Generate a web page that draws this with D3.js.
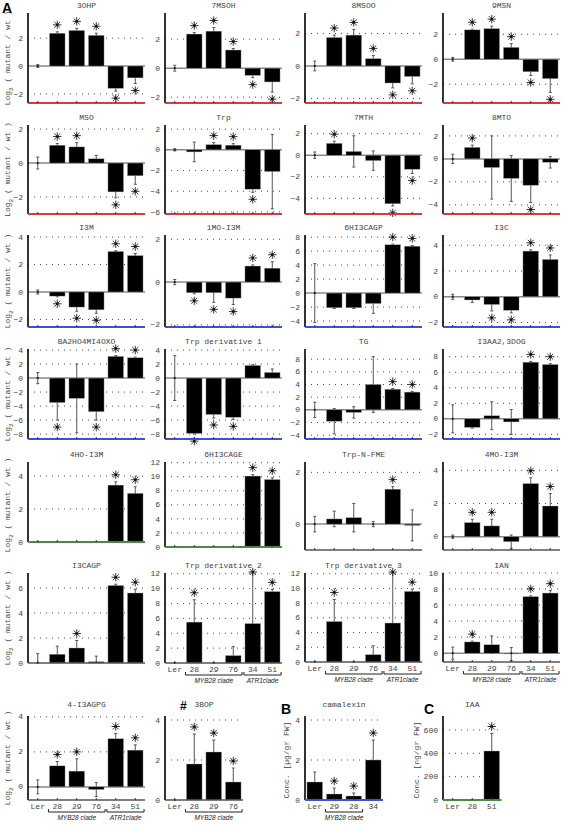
<!DOCTYPE html>
<html><head><meta charset="utf-8">
<script src="https://cdn.jsdelivr.net/npm/d3@7"></script>
<style>body{margin:0;background:#fff}svg{display:block}</style>
</head><body>
<svg id="c" width="562" height="829"></svg>
<script>
// ---------------- DATA ----------------
const genotypes = ["Ler","28","29","76","34","51"];
const genotypes3BOP = ["Ler","28","29","76"];
const genotypesCamalexin = ["Ler","29","28","34"];
const genotypesIAA = ["Ler","28","51"];

const titles = ["3OHP","7MSOH","8MSOO","9MSN","MSO","Trp","7MTH","8MTO",
  "I3M","1MO-I3M","6HI3CAGP","I3C","BA2HO4MI4OXO","Trp derivative 1","TG","I3AA2,3DOG",
  "4HO-I3M","6HI3CAGE","Trp-N-FME","4MO-I3M","I3CAGP","Trp derivative 2","Trp derivative 3","IAN",
  "4-I3AGPG","3BOP","camalexin","IAA"];

const values = [
  [0,2.35,2.55,2.2,-1.6,-0.85],
  [0,2.35,2.55,1.25,-0.5,-0.95],
  [0,1.75,1.9,0.45,-1.05,-0.65],
  [0,2.35,2.45,0.95,-1.0,-1.55],
  [0,1.05,0.95,0.25,-1.7,-0.75],
  [0,-0.2,0.5,0.45,-3.8,-2.1],
  [0,1.1,0.35,-0.5,-4.5,-1.3],
  [0,1.0,-0.75,-1.7,-2.3,-0.3],
  [0,-0.3,-1.1,-1.3,2.95,2.65],
  [0,-0.5,-0.5,-0.75,0.75,0.65],
  [0,-2.1,-2.1,-1.5,6.9,6.7],
  [0,-0.25,-0.6,-1.05,3.55,2.9],
  [0,-3.5,-2.9,-4.8,3.1,2.9],
  [0,-7.9,-5.2,-5.6,1.8,0.8],
  [0,-1.8,-0.4,4.0,3.25,2.8],
  [0,-1.1,0.4,-0.4,7.3,7.0],
  [0,0,0,0,3.45,2.95],
  [0,0,0,0,10.1,9.6],
  [0,0.2,0.25,0,1.35,-0.05],
  [0,0.85,0.65,-0.3,3.2,1.85],
  [0,0.7,1.2,0.1,6.2,5.6],
  [0,5.5,0,1.0,5.3,9.6],
  [0,5.5,0,1.0,5.3,9.6],
  [0,1.4,1.05,-0.1,7.05,7.5],
  [0,1.2,0.9,-0.15,2.75,2.1],
  [0,1.8,2.4,0.9],
  [0.9,0.3,0.2,2.0],
  [5,5,420]
];
const errors = [
  [0.1,0.1,0.15,0.15,0.2,0.4],
  [0.2,0.1,0.25,0.1,0.15,0.7],
  [0.3,0.15,0.35,0.2,0.3,0.45],
  [0.15,0.05,0.2,0.3,0.3,1.1],
  [0.35,0.1,0.25,0.2,0.35,0.5],
  [0.1,0.95,0.2,0.15,0.3,3.6],
  [0.3,0.2,1.45,0.9,0.2,0.4],
  [0.4,0.2,2.75,2.0,1.5,0.5],
  [0.15,0.05,0.3,0.25,0.05,0.15],
  [0.12,0.05,0.45,0.3,0.05,0.3],
  [4.2,0.1,0.1,1.4,0.1,0.1],
  [0.2,0.2,0.5,0.2,0.1,0.35],
  [0.8,2.5,4.9,1.2,0.1,0.1],
  [3.2,0.1,0.5,0.3,0.1,0.5],
  [1.2,2.0,0.9,4.4,0.1,0.1],
  [1.8,0.1,1.8,1.6,0.1,0.1],
  [0,0,0,0,0.2,0.4],
  [0,0,0,0,0.2,0.25],
  [0.3,0.3,0.55,0.1,0.1,0.6],
  [0.1,0.2,0.4,0.4,0.35,0.75],
  [0.75,0.65,0.6,0.45,0.1,0.3],
  [0,3.0,0,1.2,7,0.3],
  [0,3.0,0,1.2,7,0.3],
  [0.75,0.1,1.1,0.8,0.1,0.3],
  [0.4,0.25,0.7,0.4,0.3,0.3],
  [0,1.5,0.6,0.7],
  [0.5,0.3,0.15,1.0],
  [0,0,150]
];
const stars = [
  [0,1,1,1,1,1],[0,1,1,1,1,1],[0,1,1,1,1,1],[0,1,1,1,1,1],
  [0,1,1,0,1,1],[0,0,1,1,1,0],[0,1,0,0,1,1],[0,1,0,0,1,0],
  [0,1,1,1,1,1],[0,1,1,1,1,1],[0,0,0,0,1,1],[0,0,1,1,1,1],
  [0,1,0,1,1,1],[0,1,1,1,0,0],[0,0,0,0,1,1],[0,0,0,0,1,1],
  [0,0,0,0,1,1],[0,0,0,0,1,1],[0,0,0,0,1,0],[0,1,1,0,1,1],
  [0,0,1,0,1,1],[0,1,0,0,1,1],[0,1,0,0,1,1],[0,1,0,0,1,1],
  [0,1,1,0,1,1],[0,1,1,1],[0,1,1,1],[0,0,1]
];
const yTicks = [
  [-2,0,2],[-2,0,2],[-2,0,2],[-2,0,2],
  [-2,0,2],[-6,-4,-2,0,2],[-4,-2,0,2],[-4,-2,0,2],
  [-2,0,2,4],[-2,0,2],[-4,-2,0,2,4,6,8],[-2,0,2,4],
  [-8,-6,-4,-2,0,2,4],[-8,-6,-4,-2,0,2,4],[-4,-2,0,2,4,6,8],[-2,0,2,4,6,8],
  [0,2,4],[0,2,4,6,8,10,12],[0,2],[0,2,4],
  [0,2,4,6],[0,2,4,6,8,10,12],[0,2,4,6,8,10,12],[0,2,4,6,8,10],
  [0,2,4],[0,2,4],[0,2,4],[0,200,400,600]
];
const yDomains = [
  [-2.65,3.8],[-2.4,3.8],[-2.28,3.26],[-3.5,3.7],
  [-3.0,2.24],[-6.2,2.4],[-5.45,2.8],[-4.8,2.95],
  [-2.55,4.15],[-2.1,2.2],[-4.85,8.3],[-2.35,4.8],
  [-8.7,4.15],[-8.7,4.15],[-4.6,9.6],[-2.6,9.0],
  [0,4.85],[0,12.1],[-1.0,2.4],[-0.8,4.5],
  [0,7.2],[0,12.1],[0,12.1],[-1.1,10.0],
  [-0.75,4.05],[0,4.2],[0,4.2],[0,720]
];

// ---------------- LAYOUT / STYLE ----------------
const colX = [28,165,305,443];
const rowTop = [13,125,235,349,462,573,716];
const rowBottom = [103,214,327,439,548,663,800];
const bottomOverride = {16:542,17:547,18:550,19:550,22:662,23:662};
const lineColors = ["#d93a3a","#d93a3a","#3b4fe0","#3b4fe0","#4a8a45",null,null];
const bottomColorOverride = {18:null,19:null,21:null,22:null,23:null,20:null,24:null,25:null,26:"#3b4fe0",27:"#4a8a45"};
const bandW = 19.5;
const mono = "'Liberation Mono','DejaVu Sans Mono',monospace";

const svg = d3.select("#c");

function star(g, cx, cy){
  const r = 4.2;
  const s = g.append("g").attr("transform",`translate(${cx},${cy})`);
  [0,45,90,135].forEach(a=>{
    const rad = a*Math.PI/180;
    s.append("line").attr("x1",-r*Math.cos(rad)).attr("y1",-r*Math.sin(rad))
      .attr("x2",r*Math.cos(rad)).attr("y2",r*Math.sin(rad))
      .attr("stroke","#222").attr("stroke-width",0.9);
  });
  s.append("circle").attr("r",1.3).attr("fill","#111");
}

function panel(i){
  const row = Math.floor(i/4), col = i%4;
  let cats = genotypes;
  if(i===25) cats = genotypes3BOP;
  if(i===26) cats = genotypesCamalexin;
  if(i===27) cats = genotypesIAA;
  const x0 = colX[col];
  const x1 = x0 + bandW*cats.length;
  const yTop = rowTop[row];
  const yBot = bottomOverride[i] !== undefined ? bottomOverride[i] : rowBottom[row];
  const x = d3.scaleBand().domain(cats).range([x0,x1]).paddingInner(0.2).paddingOuter(0.1);
  const y = d3.scaleLinear().domain(yDomains[i]).range([yBot,yTop]);
  const g = svg.append("g");
  const vals = values[i], errs = errors[i], st = stars[i];

  // grid (dotted)
  g.selectAll(".grid").data(yTicks[i].filter(t=>t!==0)).enter()
    .append("line").attr("x1",x0).attr("x2",x1).attr("y1",d=>y(d)).attr("y2",d=>y(d))
    .attr("stroke","#333").attr("stroke-width",0.9).attr("stroke-dasharray","1,5");

  // tick labels
  g.selectAll(".tl").data(yTicks[i]).enter().append("text")
    .attr("x",x0-5).attr("y",d=>y(d)+2.6).attr("text-anchor","end")
    .attr("font-family",mono).attr("font-size",8).attr("fill","#444")
    .text(d=>d<0 ? "\u2212"+Math.abs(d) : String(d));

  // zero line
  if(yDomains[i][0] < 0){
    g.append("line").attr("x1",x0).attr("x2",x1).attr("y1",y(0)).attr("y2",y(0))
      .attr("stroke","#888").attr("stroke-width",1.5);
  }
  const bw = x.bandwidth();
  const cx = d => x(d)+bw/2;
  // error bars (behind bars)
  cats.forEach((c,k)=>{
    const e = errs[k]; if(!e) return;
    const lo = Math.max(y.domain()[0], vals[k]-e), hi = Math.min(y.domain()[1], vals[k]+e);
    g.append("line").attr("x1",cx(c)).attr("x2",cx(c)).attr("y1",y(lo)).attr("y2",y(hi))
      .attr("stroke","#555").attr("stroke-width",1);
    [lo,hi].forEach(v=>{
      if(v===y.domain()[0]||v===y.domain()[1]) return;
      g.append("line").attr("x1",cx(c)-1.5).attr("x2",cx(c)+1.5).attr("y1",y(v)).attr("y2",y(v))
        .attr("stroke","#555").attr("stroke-width",1);
    });
  });
  // bars
  g.selectAll(".bar").data(cats).enter().append("rect")
    .attr("x",d=>x(d)).attr("width",bw)
    .attr("y",(d,k)=>y(Math.max(0,vals[k])))
    .attr("height",(d,k)=>Math.abs(y(vals[k])-y(0)))
    .attr("fill","#000").attr("stroke","#aaa").attr("stroke-width",0.4);
  cats.forEach((c,k)=>{
    if(Math.abs(y(vals[k])-y(0))<1){
      g.append("rect").attr("x",cx(c)-1).attr("y",y(0)-1).attr("width",2).attr("height",2).attr("fill","#222");
    }
  });
  // stars
  cats.forEach((c,k)=>{
    if(!st[k]) return;
    const v = vals[k], e = errs[k]||0;
    if(v >= 0){
      const top = Math.min(y.domain()[1], v+e);
      star(g, cx(c), Math.max(yTop-1, y(top)-7));
    } else {
      const b = Math.max(y.domain()[0], v-e);
      star(g, cx(c), y(b)+7);
    }
  });
  // left axis
  g.append("line").attr("x1",x0).attr("x2",x0).attr("y1",yTop).attr("y2",yBot)
    .attr("stroke","#000").attr("stroke-width",1.6);
  // bottom axis
  let bc = lineColors[row];
  if(bottomColorOverride.hasOwnProperty(i)) bc = bottomColorOverride[i];
  g.append("line").attr("x1",x0).attr("x2",x1).attr("y1",yBot).attr("y2",yBot)
    .attr("stroke",bc || "#555").attr("stroke-width",bc?2.2:1.6);
  cats.forEach(c=>{
    g.append("line").attr("x1",cx(c)).attr("x2",cx(c)).attr("y1",yBot-2).attr("y2",yBot)
      .attr("stroke","#333").attr("stroke-width",1);
  });
  // title
  g.append("text").attr("x",(x0+x1)/2).attr("y",row===6 ? yTop-9 : yTop-5).attr("text-anchor","middle")
    .attr("font-family",mono).attr("font-size",8).attr("fill","#444").text(titles[i]);

  // x labels
  if(i>=21){
    g.selectAll(".xl").data(cats).enter().append("text")
      .attr("x",d=>cx(d)).attr("y",yBot+9).attr("text-anchor","middle")
      .attr("font-family",mono).attr("font-size",8).attr("fill","#444").text(d=>d);
    const clades = [];
    if(i===26) clades.push({from:"29",to:"28",label:"MYB28 clade"});
    else if(i===27) {}
    else {
      clades.push({from:"28",to:"76",label:"MYB28 clade"});
      if(i!==25) clades.push({from:"34",to:"51",label:"ATR1clade"});
    }
    clades.forEach(cl=>{
      const a = x(cl.from)-1, b = x(cl.to)+bw+1, yy = yBot+12;
      g.append("path").attr("d",`M${a},${yy-3}V${yy}H${b}V${yy-3}`)
        .attr("fill","none").attr("stroke","#222").attr("stroke-width",1);
      g.append("text").attr("x",(a+b)/2).attr("y",yy+8).attr("text-anchor","middle")
        .attr("font-family","'Liberation Sans',Arial,sans-serif").attr("font-style","italic")
        .attr("font-size",6.5).attr("fill","#222").text(cl.label);
    });
  }
}

for(let i=0;i<titles.length;i++) panel(i);

// y-axis labels per row
function logLabel(cy){
  const t = svg.append("text").attr("transform",`translate(10,${cy}) rotate(-90)`)
    .attr("text-anchor","middle").attr("font-family",mono).attr("font-size",8).attr("fill","#444");
  t.append("tspan").text("Log");
  t.append("tspan").attr("font-size",6).attr("dy",2.5).text("2");
  t.append("tspan").attr("dy",-2.5).text(" ( mutant / wt )");
}
for(let r=0;r<7;r++) logLabel((rowTop[r]+rowBottom[r])/2);

function concLabel(x,cy,txt){
  svg.append("text").attr("transform",`translate(${x},${cy}) rotate(-90)`)
    .attr("text-anchor","middle").attr("font-family",mono).attr("font-size",8).attr("fill","#444").text(txt);
}
concLabel(289,760,"Conc. [\u00b5g/gr FW]");
concLabel(419,760,"Conc. [ng/gr FW]");

// panel letters
const sans = "'Liberation Sans',Arial,sans-serif";
svg.append("text").attr("x",2).attr("y",13).attr("font-family",sans).attr("font-weight","bold").attr("font-size",14).text("A");
svg.append("text").attr("x",281).attr("y",714).attr("font-family",sans).attr("font-weight","bold").attr("font-size",14).text("B");
svg.append("text").attr("x",424).attr("y",714).attr("font-family",sans).attr("font-weight","bold").attr("font-size",14).text("C");
svg.append("text").attr("x",180).attr("y",710).attr("font-family",sans).attr("font-weight","bold").attr("font-size",12).text("#");
</script>
</body></html>
